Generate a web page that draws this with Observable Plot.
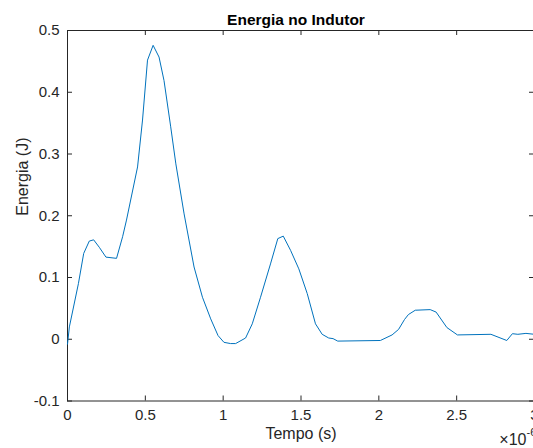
<!DOCTYPE html>
<html>
<head>
<meta charset="utf-8">
<script src="https://cdn.jsdelivr.net/npm/d3@7"></script>
<script src="https://cdn.jsdelivr.net/npm/@observablehq/plot@0.6"></script>
<style>
  html, body { margin: 0; padding: 0; background: #fff; }
  svg { display: block; }
</style>
</head>
<body>
<div id="chart"></div>
<script>
// Time in units of 1e-6 s
const tempo = [0, 0.012, 0.07, 0.104, 0.14, 0.168, 0.204, 0.247, 0.315, 0.354, 0.379, 0.45, 0.482, 0.514, 0.55, 0.588, 0.62, 0.663, 0.696, 0.749, 0.813, 0.867, 0.92, 0.967, 1.005, 1.048, 1.08, 1.144, 1.187, 1.24, 1.304, 1.351, 1.386, 1.433, 1.486, 1.54, 1.593, 1.636, 1.678, 1.706, 1.736, 2.01, 2.085, 2.127, 2.165, 2.19, 2.234, 2.33, 2.368, 2.437, 2.505, 2.72, 2.822, 2.858, 2.893, 2.945, 3.0];
const energia = [-0.008, 0.02, 0.09, 0.139, 0.159, 0.161, 0.149, 0.133, 0.131, 0.166, 0.193, 0.279, 0.355, 0.452, 0.476, 0.457, 0.419, 0.344, 0.284, 0.203, 0.117, 0.068, 0.033, 0.006, -0.005, -0.007, -0.007, 0.002, 0.025, 0.068, 0.122, 0.163, 0.167, 0.144, 0.114, 0.074, 0.025, 0.008, 0.002, 0.001, -0.003, -0.002, 0.007, 0.016, 0.032, 0.040, 0.047, 0.048, 0.044, 0.019, 0.007, 0.008, -0.002, 0.009, 0.008, 0.0095, 0.008];

const xTicks = [0, 0.5, 1, 1.5, 2, 2.5, 3];
const xTickLabels = ["0", "0.5", "1", "1.5", "2", "2.5", "3"];
const yTicks = [-0.1, 0, 0.1, 0.2, 0.3, 0.4, 0.5];
const yTickLabels = ["-0.1", "0", "0.1", "0.2", "0.3", "0.4", "0.5"];

const titulo = "Energia no Indutor";
const rotuloX = "Tempo (s)";
const rotuloY = "Energia (J)";
const expoente = ["\u00d710", "-6"];

const data = tempo.map((t, i) => ({t, e: energia[i]}));

const W = 533, H = 448;
const mL = 67, mR = -1, mT = 30, mB = 47.5;
const frameW = W - mL - mR, frameH = H - mT - mB;
const tick = 5;
const axisColor = "#262626";
const font = "'Liberation Sans', Arial, Helvetica, sans-serif";

const chart = Plot.plot({
  width: W,
  height: H,
  marginLeft: mL,
  marginRight: mR,
  marginTop: mT,
  marginBottom: mB,
  style: {background: "#fff", fontFamily: font, overflow: "visible"},
  x: {domain: [0, 3]},
  y: {domain: [-0.1, 0.5]},
  marks: [
    Plot.axisX({ticks: xTicks, tickFormat: (d, i) => xTickLabels[i], tickSize: 0, tickPadding: 8, fontSize: 15, color: axisColor, label: null}),
    Plot.axisY({ticks: yTicks, tickFormat: (d, i) => yTickLabels[i], tickSize: 0, tickPadding: 8, fontSize: 15, color: axisColor, label: null}),
    // inward ticks on all four sides
    Plot.ruleX(xTicks, {x: d => d, insetTop: frameH - tick, stroke: axisColor}),
    Plot.ruleX(xTicks, {x: d => d, insetBottom: frameH - tick, stroke: axisColor}),
    Plot.ruleY(yTicks, {y: d => d, insetRight: frameW - tick, stroke: axisColor}),
    Plot.ruleY(yTicks, {y: d => d, insetLeft: frameW - tick, stroke: axisColor}),
    Plot.frame({stroke: axisColor, strokeWidth: 1}),
    Plot.line(data, {x: "t", y: "e", stroke: "#0072BD", strokeWidth: 1}),
    Plot.text([titulo], {frameAnchor: "top", dy: -17, dx: -5, fontSize: 15.5, fontWeight: "bold", fill: "#000", text: d => d}),
    Plot.text([rotuloX], {frameAnchor: "bottom", dy: 38, fontSize: 16, fill: axisColor, text: d => d}),
    Plot.text([rotuloY], {frameAnchor: "left", dx: -45, rotate: -90, fontSize: 16, fill: axisColor, text: d => d}),
    Plot.text([expoente[0]], {frameAnchor: "bottom-right", dx: -8, dy: 44, textAnchor: "end", fontSize: 16, fill: axisColor, text: d => d}),
    Plot.text([expoente[1]], {frameAnchor: "bottom-right", dx: -8, dy: 35, textAnchor: "start", fontSize: 11, fill: axisColor, text: d => d})
  ]
});
document.getElementById("chart").appendChild(chart);
</script>
</body>
</html>
